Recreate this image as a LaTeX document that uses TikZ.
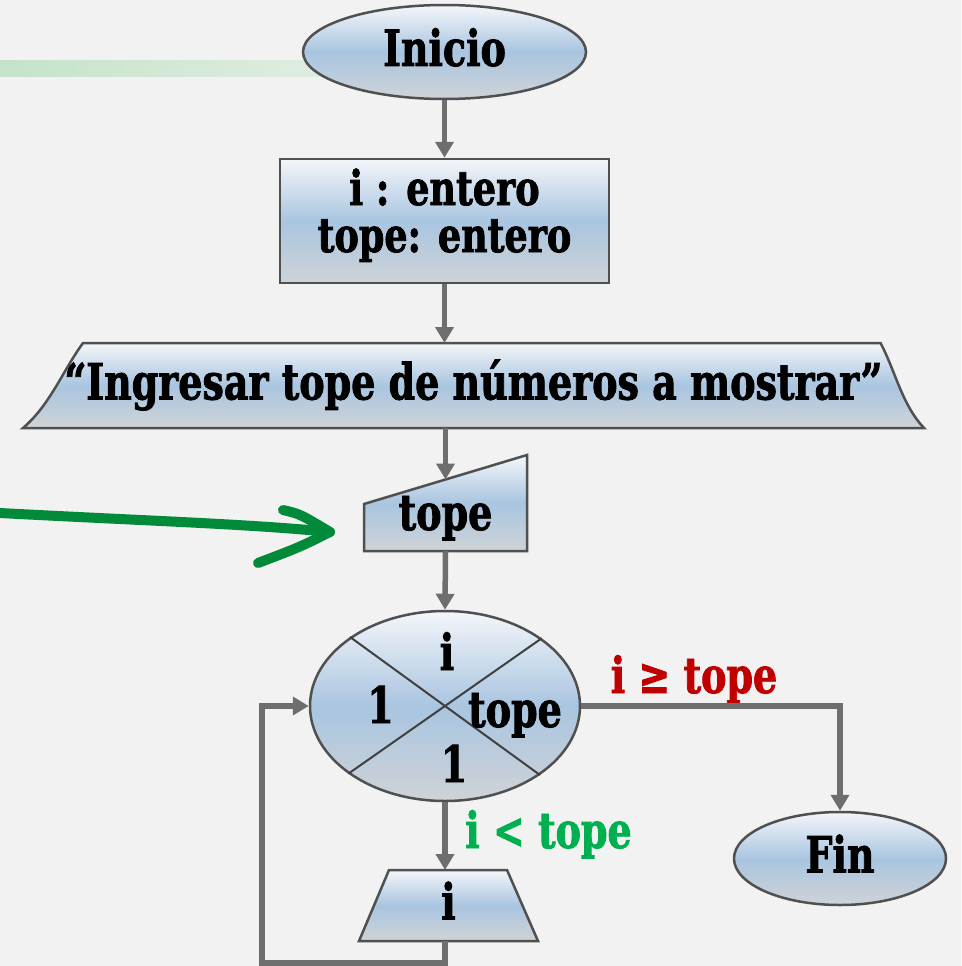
\documentclass[tikz,border=0pt]{standalone}
\usepackage{fontspec}
\setmainfont{DejaVu Serif}[FakeStretch=0.76,BoldFeatures={FakeBold=1.6}]
\usepackage{tikz}
\usetikzlibrary{shapes.geometric,arrows.meta,positioning,calc,backgrounds}

\definecolor{fondogris}{HTML}{F2F2F2}
\definecolor{azularriba}{HTML}{F4F6FA}
\definecolor{azulmedio}{HTML}{A9C5E0}
\definecolor{grisabajo}{HTML}{CFD3D7}
\definecolor{bordegris}{HTML}{505050}
\definecolor{flechagris}{HTML}{6E6E6E}
\definecolor{rojo}{HTML}{C00000}
\definecolor{verdetxt}{HTML}{00B050}
\definecolor{verdemano}{HTML}{008A3A}

\begin{document}
\begin{tikzpicture}[x=1pt,y=-1pt,
    letra/.style={font=\bfseries\fontsize{50}{42}\selectfont},
    relleno/.style={draw=bordegris,line width=2.5pt,top color=azularriba,bottom color=grisabajo,middle color=azulmedio},
    bloque/.style={relleno,letra,align=center,inner sep=0pt,text height=28pt,text depth=0pt},
    solotexto/.style={letra,align=center,inner sep=0pt,outer sep=0pt,text height=28pt,text depth=0pt},
    etiq/.style={letra,anchor=base,inner sep=0pt},
    flecha/.style={draw=flechagris,line width=5.5pt,-{Triangle[length=16pt,width=18pt]}}]
    \useasboundingbox (0,0) rectangle (961,966);

    % fondo y marcas a mano
    \begin{scope}[on background layer]
        \fill[fondogris] (0,0) rectangle (961,966);
        \shade[left color={rgb,255:red,196;green,227;blue,202},right color={rgb,255:red,224;green,237;blue,226}] (0,61) rectangle (330,76);
    \end{scope}
    \draw[verdemano,line width=10pt,line cap=round,line join=round] (0,513) .. controls (150,521) and (250,524) .. (330,532);
    \draw[verdemano,line width=10pt,line cap=round,line join=round] (283,510) .. controls (300,514) .. (330,532) .. controls (300,547) .. (258,563);

    % bloques
    \node[bloque,ellipse,minimum width=283pt,minimum height=94pt] (inicio) at (444.5,52) {Inicio};
    \node[bloque,rectangle,minimum width=329pt,minimum height=124pt,text height=62pt,font=\bfseries\fontsize{48}{47}\selectfont] (decl) at (444.5,221) {i : entero\\tope: entero};
    \node[solotexto,minimum width=901pt,minimum height=85pt] (msg) at (473.5,385.5) {“Ingresar tope de números a mostrar”};
    \node[solotexto,minimum width=163pt,minimum height=70pt] (leer) at (445.5,516) {tope};
    \node[bloque,ellipse,minimum width=270pt,minimum height=190pt] (ciclo) at (445,706) {};
    \node[solotexto,minimum width=179pt,minimum height=71pt] (mostrar) at (448.5,905.5) {i};
    \node[bloque,ellipse,minimum width=212pt,minimum height=93pt] (fin) at (840,858.5) {Fin};

    \coordinate (lsi) at ($(leer.south west)+(0,-47)$);
    \coordinate (lsd) at ($(leer.south east)+(0,-96)$);
    \coordinate (leertop) at ($(lsi)!0.5!(lsd)$);
    \begin{scope}[on background layer]
        \path[relleno] (83,343) .. controls (62,372) and (50,405) .. (23,428) -- (924,428) .. controls (902,405) and (895,370) .. (880.5,343) -- cycle;
        \path[relleno] (leer.south west) -- (lsi) -- (lsd) -- (leer.south east) -- cycle;
        \path[relleno] (mostrar.south west) -- ($(mostrar.north west)+(30,0)$) -- ($(mostrar.north east)+(-31,0)$) -- (mostrar.south east) -- cycle;
    \end{scope}

    % cruz del ciclo
    \draw[bordegris!80!black,line width=2pt] (ciclo.144.9) -- (ciclo.324.9);
    \draw[bordegris!80!black,line width=2pt] (ciclo.35.1) -- (ciclo.215.1);
    \node[etiq] (cvar) at (447,670) {i};
    \node[etiq] (cini) at (380.5,723) {1};
    \node[etiq] (cfin) at (515,727) {tope};
    \node[etiq] (cinc) at (454,782) {1};

    % condiciones
    \node[etiq,text=rojo] (mayor) at (694,693) {i ≥ tope};
    \node[etiq,text=verdetxt] (menor) at (548.5,848) {i < tope};

    % flechas
    \draw[flecha] (inicio.south) -- (decl.north);
    \draw[flecha] (decl.south) -- (decl.south |- msg.north);
    \draw[flecha] (msg.south -| leertop) -- (leertop);
    \draw[flecha] (leer.south) -- (ciclo.north);
    \draw[flecha] (ciclo.east) -| (fin.north);
    \draw[flecha] (ciclo.south) -- (ciclo.south |- mostrar.north);
    \draw[flecha] (mostrar.south -| ciclo.south) -- ++(0,22) -| ([xshift=-47pt]ciclo.west) -- (ciclo.west);
\end{tikzpicture}
\end{document}
